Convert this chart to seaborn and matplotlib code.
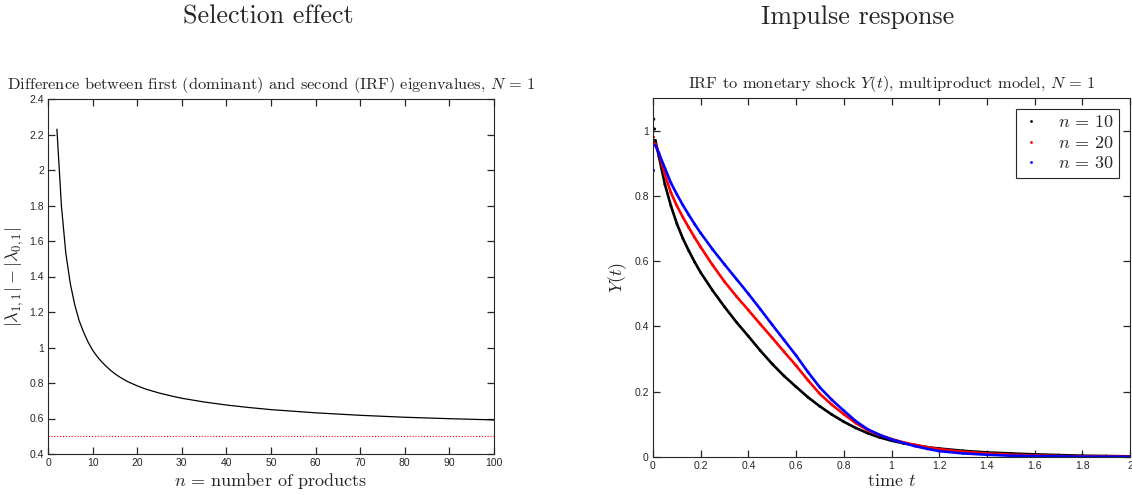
import numpy as np
import pandas as pd
import matplotlib
matplotlib.use("Agg")
import matplotlib.pyplot as plt
from matplotlib.ticker import FuncFormatter, MultipleLocator
import seaborn as sns

# ---- data ----
# left: gap between the two eigenvalues vs number of products
n_products = [2, 3, 4, 5, 6, 7, 8, 9, 10, 11, 12, 13, 14, 15, 16, 17, 18, 19,
              20, 22, 25, 28, 30, 35, 40, 45, 50, 60, 70, 80, 90, 100]
eig_gap = [2.23, 1.80, 1.53, 1.36, 1.24, 1.15, 1.085, 1.03, 0.985, 0.95,
           0.92, 0.895, 0.872, 0.852, 0.835, 0.82, 0.806, 0.795, 0.784,
           0.765, 0.743, 0.725, 0.714, 0.693, 0.676, 0.662, 0.65, 0.632,
           0.618, 0.607, 0.599, 0.592]
gap_floor = 0.5

# right: IRF Y(t) for n = 10, 20, 30
t_grid = [0.01, 0.025, 0.05, 0.075, 0.1, 0.125, 0.15, 0.175, 0.2, 0.25, 0.3,
          0.35, 0.4, 0.45, 0.5, 0.55, 0.6, 0.65, 0.7, 0.75, 0.8, 0.85, 0.9,
          0.95, 1.0, 1.05, 1.1, 1.15, 1.2, 1.3, 1.4, 1.5, 1.6, 1.7, 1.8, 1.9,
          2.0]
irf_n10 = [0.97, 0.92, 0.835, 0.77, 0.715, 0.67, 0.632, 0.597, 0.565, 0.51,
           0.46, 0.413, 0.37, 0.326, 0.285, 0.248, 0.215, 0.183, 0.155, 0.13,
           0.108, 0.089, 0.073, 0.06, 0.05, 0.042, 0.036, 0.03, 0.026, 0.019,
           0.014, 0.011, 0.008, 0.006, 0.004, 0.003, 0.002]
irf_n20 = [0.96, 0.93, 0.865, 0.81, 0.77, 0.735, 0.703, 0.672, 0.643, 0.588,
           0.537, 0.492, 0.45, 0.407, 0.365, 0.322, 0.28, 0.235, 0.193, 0.16,
           0.131, 0.104, 0.082, 0.067, 0.055, 0.045, 0.037, 0.03, 0.024,
           0.016, 0.011, 0.007, 0.005, 0.003, 0.002, 0.0015, 0.001]
irf_n30 = [0.955, 0.93, 0.885, 0.84, 0.805, 0.772, 0.742, 0.713, 0.686,
           0.636, 0.59, 0.545, 0.50, 0.453, 0.405, 0.358, 0.311, 0.26, 0.213,
           0.175, 0.142, 0.11, 0.085, 0.068, 0.054, 0.043, 0.033, 0.025,
           0.018, 0.011, 0.007, 0.004, 0.003, 0.002, 0.001, 0.0008, 0.0005]
# stray first points near t = 0
early_t = [0.003, 0.006, 0.002, 0.002]
early_y = [1.035, 1.005, 0.98, 0.878]
early_n = [r"$n\,=\,10$", r"$n\,=\,10$", r"$n\,=\,20$", r"$n\,=\,30$"]

series_labels = [r"$n\,=\,10$", r"$n\,=\,20$", r"$n\,=\,30$"]
series_colors = ["black", "red", "blue"]

# ---- style ----
AX_COL = "#262626"
SERIF = "cmr10"
sns.set_style("white")
plt.rcParams.update({
    "font.family": ["Liberation Sans", "DejaVu Sans"],
    "mathtext.fontset": "cm",
    "axes.unicode_minus": False,
    "xtick.labelsize": 7.5, "ytick.labelsize": 7.5,
})

fig = plt.figure(figsize=(11.32, 4.95), dpi=100)
W, H = 1132, 495
ax1 = fig.add_axes([48 / W, 1 - 454 / H, (494 - 48) / W, (454 - 99) / H])
ax2 = fig.add_axes([653 / W, 1 - 457 / H, (1130 - 653) / W, (457 - 98) / H])

fmt = FuncFormatter(lambda v, p: f"{v:g}")


def matlab_axes(ax):
    for s in ax.spines.values():
        s.set_color(AX_COL)
        s.set_linewidth(0.8)
    ax.xaxis.set_major_formatter(fmt)
    ax.yaxis.set_major_formatter(fmt)
    ax.grid(False)
    ax.xaxis.set_ticks_position("both")
    ax.yaxis.set_ticks_position("both")
    ax.tick_params(axis="both", which="major", direction="in", length=5,
                   width=0.9, color=AX_COL, labelcolor=AX_COL, pad=3,
                   bottom=True, top=True, left=True, right=True)


# left panel
left_df = pd.DataFrame({"n": n_products, "gap": eig_gap})
sns.lineplot(data=left_df, x="n", y="gap", color="black", lw=0.9, ax=ax1)
ax1.axhline(gap_floor, color="red", ls=(0, (1, 1.6)), lw=0.8)
ax1.set_xlim(0, 100)
ax1.set_ylim(0.4, 2.4)
ax1.xaxis.set_major_locator(MultipleLocator(10))
ax1.yaxis.set_major_locator(MultipleLocator(0.2))
matlab_axes(ax1)
ax1.set_xlabel(r"$n$ = number of products", family=SERIF, fontsize=13,
               labelpad=2)
ax1.set_ylabel(r"$|\lambda_{1,1}| - |\lambda_{0,1}|$", fontsize=13, labelpad=2)
ax1.set_title("Difference between first (dominant) and second (IRF) "
              r"eigenvalues, $N\,=\,1$", family=SERIF, fontsize=11.8, pad=7)

# right panel
irf_df = pd.DataFrame({
    "t": t_grid * 3,
    "Y": irf_n10 + irf_n20 + irf_n30,
    "n": [series_labels[0]] * len(t_grid) + [series_labels[1]] * len(t_grid)
         + [series_labels[2]] * len(t_grid),
})
pal = dict(zip(series_labels, series_colors))
sns.lineplot(data=irf_df, x="t", y="Y", hue="n", palette=pal, lw=1.9,
             legend=False, ax=ax2)
sns.scatterplot(data=irf_df, x="t", y="Y", hue="n", palette=pal, s=4,
                marker="o", edgecolor="none", ax=ax2)
early_df = pd.DataFrame({"t": early_t, "Y": early_y, "n": early_n})
sns.scatterplot(data=early_df, x="t", y="Y", hue="n", palette=pal, s=5,
                marker="o", edgecolor="none", legend=False, ax=ax2)
ax2.set_xlim(0, 2)
ax2.set_ylim(0, 1.1)
ax2.xaxis.set_major_locator(MultipleLocator(0.2))
ax2.yaxis.set_major_locator(MultipleLocator(0.2))
matlab_axes(ax2)
ax2.set_xlabel("time $t$", family=SERIF, fontsize=13, labelpad=1)
ax2.set_ylabel("$Y(t)$", fontsize=13, labelpad=4)
ax2.set_title(r"IRF to monetary shock $Y(t)$, multiproduct model, $N\,=\,1$",
              family=SERIF, fontsize=11.8, pad=7)
leg = ax2.legend(loc="upper right", fontsize=13, frameon=True, fancybox=False,
                 framealpha=1, edgecolor=AX_COL, borderaxespad=0.6,
                 handlelength=1.0, handletextpad=1.0, labelspacing=0.2,
                 borderpad=0.3)
leg.get_frame().set_linewidth(0.8)

fig.text(268 / W, 1 - 17 / H, "Selection effect", family=SERIF, fontsize=18.7,
         ha="center", va="center")
fig.text(858 / W, 1 - 17 / H, "Impulse response", family=SERIF,
         fontsize=18.7, ha="center", va="center")

fig.savefig("out.png", dpi=100)
